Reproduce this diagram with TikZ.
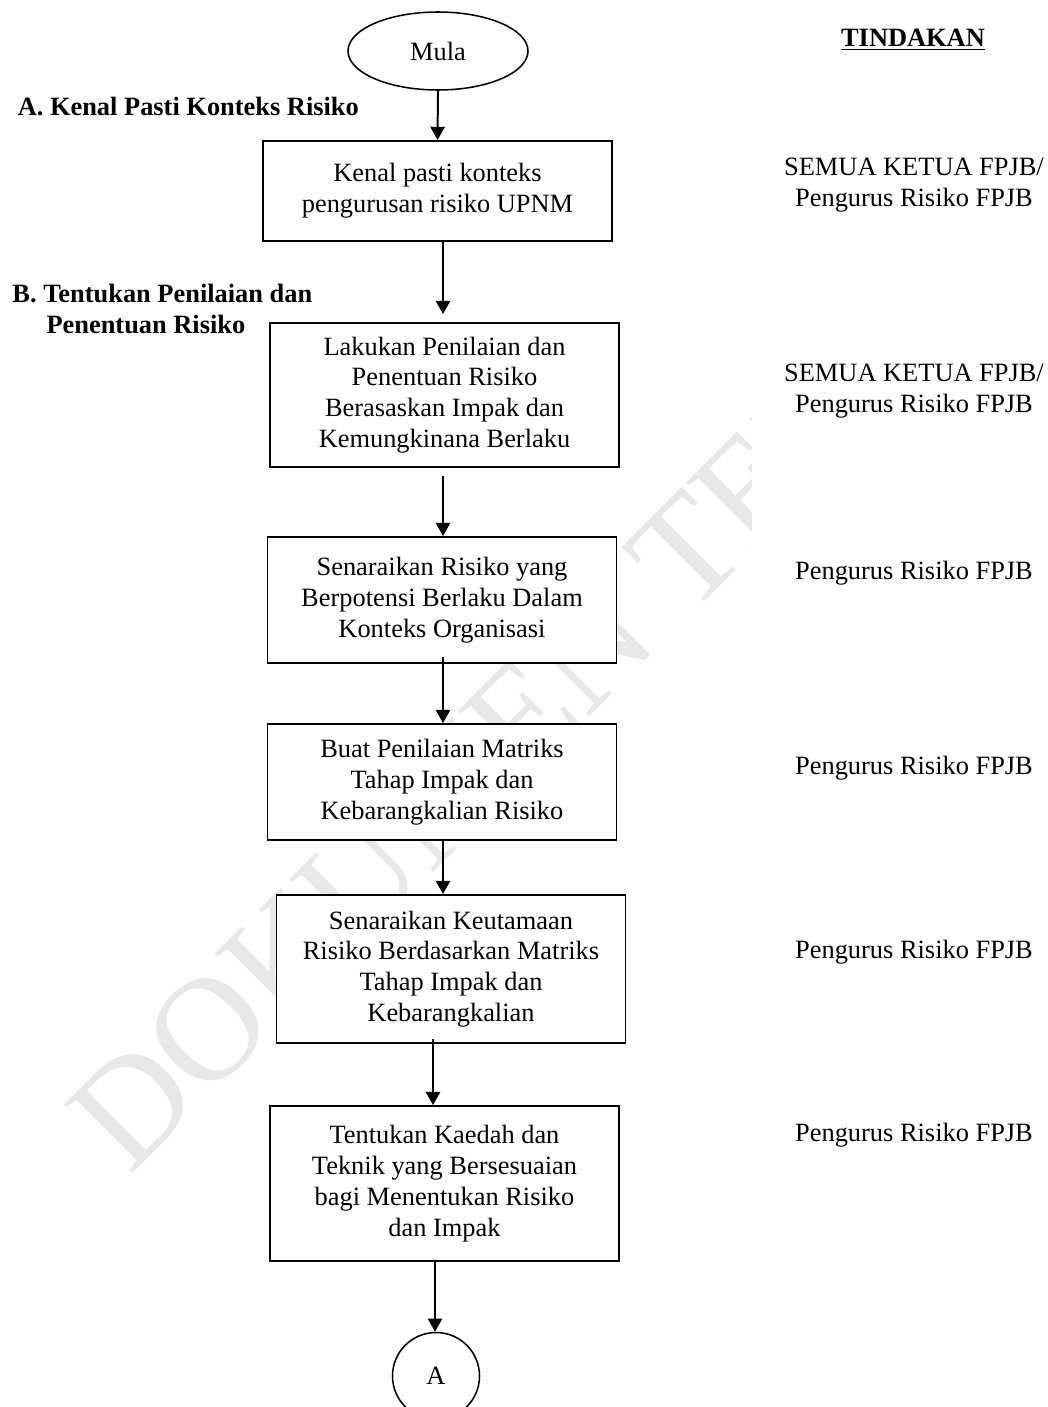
\documentclass[tikz,border=0pt]{standalone}
\usepackage{fontspec}
\setmainfont{Liberation Serif}
\usetikzlibrary{arrows.meta,shapes.geometric}
\newlength\pxu
\setlength\pxu{0.4545pt}
\tikzset{
	langkah/.style={draw, line width=0.9pt, fill=white, align=center, minimum width=349\pxu, inner sep=0pt},
	tindakan/.style={align=center},
	anak/.style={-{Triangle[length=6pt,width=6.5pt]}, line width=0.9pt},
}
\begin{document}
\begin{tikzpicture}[x=\pxu, y=-\pxu, font=\fontsize{12}{14}\selectfont]
	\useasboundingbox (0,0) rectangle (1048,1407);
	
	%watermark
	\node[anchor=base west, rotate=45, text=gray!18, font=\fontsize{67}{67}\selectfont] (tera) at (124,1182) {DOKUMEN TERKAWAL};
	\fill[white] (752,0) rectangle (1048,1407);
	
	%headings
	\node (tajuk) at (913,40) {\underline{\textbf{TINDAKAN}}};
	\node[anchor=west, font=\fontsize{12}{14}\selectfont\bfseries] (secA) at (10,107) {A. Kenal Pasti Konteks Risiko};
	\node[anchor=north west, align=left, inner sep=0pt, font=\fontsize{12}{14}\selectfont\bfseries] (secB) at (12,284) {B. Tentukan Penilaian dan\\\hspace*{15.5pt}Penentuan Risiko};
	
	%flow
	\node[ellipse, draw, line width=0.7pt, minimum width=180\pxu, minimum height=78\pxu, inner sep=0pt] (mula) at (438,51) {Mula};
	\node[langkah, minimum height=100\pxu] (b1) at (437.5,191) {Kenal pasti konteks\\pengurusan risiko UPNM};
	\node[langkah, minimum height=144\pxu] (b2) at (444.5,395) {Lakukan Penilaian dan\\Penentuan Risiko\\Berasaskan Impak dan\\Kemungkinana Berlaku};
	\node[langkah, minimum height=126\pxu] (b3) at (442,600) {Senaraikan Risiko yang\\Berpotensi Berlaku Dalam\\Konteks Organisasi};
	\node[langkah, minimum height=116\pxu] (b4) at (442,782) {Buat Penilaian Matriks\\Tahap Impak dan\\Kebarangkalian Risiko};
	\node[langkah, minimum height=148\pxu] (b5) at (451,969) {Senaraikan Keutamaan\\Risiko Berdasarkan Matriks\\Tahap Impak dan\\Kebarangkalian};
	\node[langkah, minimum height=155\pxu] (b6) at (444.5,1183.5) {Tentukan Kaedah dan\\Teknik yang Bersesuaian\\bagi Menentukan Risiko\\dan Impak};
	\node[circle, draw, line width=0.7pt, minimum size=87\pxu, inner sep=0pt] (sambung) at (436,1376) {A};
	
	\draw[anak] (mula.south) -- (b1.north);
	\draw[anak] ([xshift=5.5\pxu]b1.south) -- ([xshift=-1.5\pxu, yshift=8\pxu]b2.north);
	\draw[anak] ([xshift=-1.5\pxu, yshift=-8\pxu]b2.south) -- ([xshift=1\pxu]b3.north);
	\draw[anak] ([xshift=1\pxu, yshift=7\pxu]b3.south) -- ([xshift=1\pxu]b4.north);
	\draw[anak] ([xshift=1\pxu]b4.south) -- ([xshift=-8\pxu]b5.north);
	\draw[anak] ([xshift=-18\pxu, yshift=5\pxu]b5.south) -- ([xshift=-11.5\pxu]b6.north);
	\draw[anak] ([xshift=-9.5\pxu]b6.south) -- ([xshift=-1\pxu]sambung.north);
	
	%tindakan
	\node[tindakan] (t1) at (914,185) {SEMUA KETUA FPJB/\\Pengurus Risiko FPJB};
	\node[tindakan] (t2) at (914,391) {SEMUA KETUA FPJB/\\Pengurus Risiko FPJB};
	\node[tindakan] (t3) at (914,573) {Pengurus Risiko FPJB};
	\node[tindakan] (t4) at (914,768) {Pengurus Risiko FPJB};
	\node[tindakan] (t5) at (914,952) {Pengurus Risiko FPJB};
	\node[tindakan] (t6) at (914,1135) {Pengurus Risiko FPJB};
\end{tikzpicture}
\end{document}
